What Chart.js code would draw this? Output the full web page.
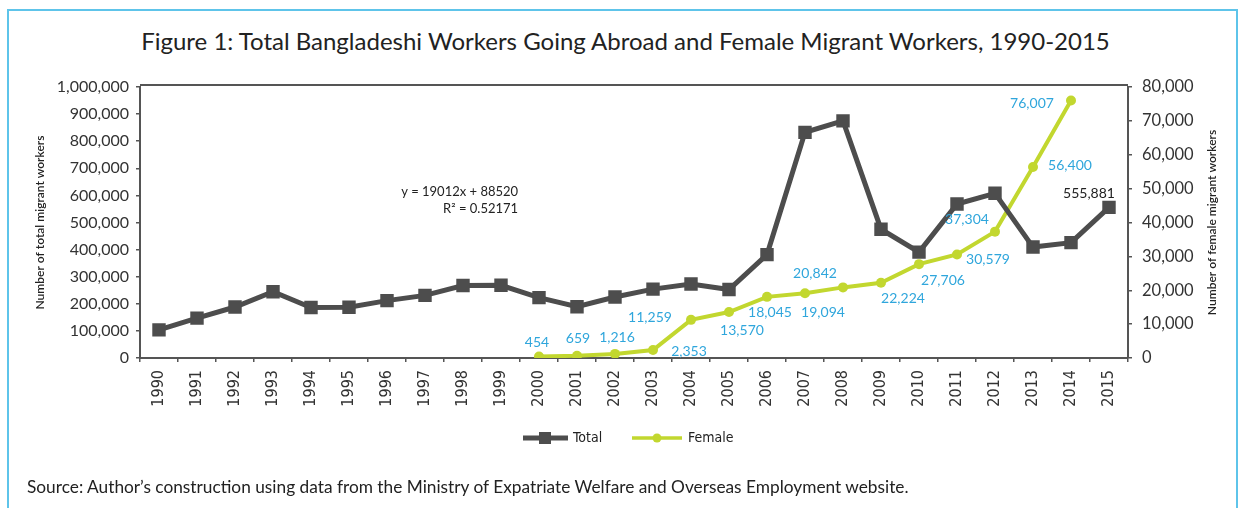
<!DOCTYPE html>
<html>
<head>
<meta charset="utf-8">
<script src="https://cdn.jsdelivr.net/npm/chart.js"></script>
<style>
  body { margin: 0; background: #fff; }
  #wrap { position: relative; width: 1241px; height: 508px; overflow: hidden; }
  .frame { position: absolute; left: 7px; top: 9px; width: 1227px; height: 520px; border: 2px solid #5ec4ea; }
  .title { position: absolute; left: 10px; width: 1231px; top: 26px; text-align: center;
           font-family: Lato, sans-serif; font-size: 24px; color: #222; }
  .source { position: absolute; left: 27px; top: 476px; font-family: Lato, sans-serif; font-size: 17.3px; color: #222; }
  #box { position: absolute; left: 0; top: 0; width: 1241px; height: 508px; }
</style>
</head>
<body>
<div id="wrap">
  <div class="frame"></div>
  <div class="title">Figure 1: Total Bangladeshi Workers Going Abroad and Female Migrant Workers, 1990-2015</div>
  <div id="box"><canvas id="chart"></canvas></div>
  <div class="source">Source: Author’s construction using data from the Ministry of Expatriate Welfare and Overseas Employment website.</div>
</div>
<script>
const years = ['1990','1991','1992','1993','1994','1995','1996','1997','1998','1999','2000','2001','2002',
  '2003','2004','2005','2006','2007','2008','2009','2010','2011','2012','2013','2014','2015'];

const totalWorkers = [103814, 147131, 188124, 244508, 186326, 187543, 211714, 231077, 267667, 268182,
  222686, 188965, 225256, 254190, 272958, 252702, 381516, 832609, 875055, 475278,
  390702, 568062, 607798, 409253, 425684, 555881];

const femaleWorkers = [null, null, null, null, null, null, null, null, null, null,
  454, 659, 1216, 2353, 11259, 13570, 18045, 19094, 20842, 22224,
  27706, 30579, 37304, 56400, 76007, null];

// label nudges (px) for the female value labels, keyed by year
const femaleLabelNudge = {
  '2000': [-2, -14], '2001': [1, -17], '2002': [2, -16], '2003': [36, 1], '2004': [-41, -2],
  '2005': [13, 18], '2006': [3, 16], '2007': [18, 19], '2008': [-28, -14], '2009': [22, 16],
  '2010': [24, 16], '2011': [31, 5], '2012': [-28, -12], '2013': [37, -1], '2014': [-39, 3]
};

const GRAY = '#4d4d4d';
const GREEN = '#c2d72f';
const BLUE = '#2fa6dc';
const fmt = v => v.toLocaleString('en-US');

const extras = {
  id: 'extras',
  afterDraw(chart) {
    const ctx = chart.ctx;
    const a = chart.chartArea;
    const xs = chart.scales.x, ys = chart.scales.y;
    ctx.save();

    // top frame line of the plot
    ctx.strokeStyle = '#555';
    ctx.lineWidth = 2;
    ctx.beginPath();
    ctx.moveTo(a.left, a.top - 2);
    ctx.lineTo(a.right, a.top - 2);
    ctx.stroke();

    // axis titles
    ctx.fillStyle = '#222';
    ctx.font = '600 12px Lato, sans-serif';
    ctx.textAlign = 'center';
    ctx.textBaseline = 'middle';
    const midY = (a.top + a.bottom) / 2;
    ctx.save();
    ctx.translate(40, midY);
    ctx.rotate(-Math.PI / 2);
    ctx.fillText('Number of total migrant workers', 0, 0);
    ctx.restore();
    ctx.save();
    ctx.translate(1212, midY);
    ctx.rotate(-Math.PI / 2);
    ctx.fillText('Number of female migrant workers', 0, 0);
    ctx.restore();

    // trend equation
    ctx.font = '13px Lato, sans-serif';
    ctx.textAlign = 'right';
    ctx.fillStyle = '#222';
    const tx = xs.getPixelForValue(9.45);
    ctx.fillText('y = 19012x + 88520', tx, ys.getPixelForValue(615000));
    ctx.fillText('R² = 0.52171', tx, ys.getPixelForValue(550000));

    // value labels
    ctx.font = '14px Lato, sans-serif';
    ctx.textAlign = 'center';
    ctx.fillStyle = BLUE;
    const fMeta = chart.getDatasetMeta(1);
    femaleWorkers.forEach((v, i) => {
      if (v == null) return;
      const p = fMeta.data[i];
      const n = femaleLabelNudge[years[i]] || [0, -14];
      ctx.fillText(fmt(v), p.x + n[0], p.y + n[1]);
    });
    const tMeta = chart.getDatasetMeta(0);
    const last = totalWorkers.length - 1;
    ctx.fillStyle = '#222';
    ctx.fillText(fmt(totalWorkers[last]), tMeta.data[last].x - 20, tMeta.data[last].y - 14);

    // legend
    const ly = 438;
    ctx.lineWidth = 5;
    ctx.strokeStyle = GRAY;
    ctx.beginPath(); ctx.moveTo(523, ly); ctx.lineTo(568, ly); ctx.stroke();
    ctx.fillStyle = GRAY;
    ctx.fillRect(539, ly - 6, 12, 12);
    ctx.lineWidth = 3.5;
    ctx.strokeStyle = GREEN;
    ctx.beginPath(); ctx.moveTo(632, ly); ctx.lineTo(682, ly); ctx.stroke();
    ctx.fillStyle = GREEN;
    ctx.beginPath(); ctx.arc(657, ly, 4.5, 0, Math.PI * 2); ctx.fill();
    ctx.fillStyle = '#222';
    ctx.textAlign = 'left';
    ctx.font = '14px "Liberation Sans Narrow", "DejaVu Sans Condensed", sans-serif';
    ctx.fillText('Total', 573, ly);
    ctx.fillText('Female', 688, ly);

    ctx.restore();
  }
};

const ctx = document.getElementById('chart');

new Chart(ctx, {
  type: 'line',
  data: {
    labels: years,
    datasets: [{
      label: 'Total',
      data: totalWorkers,
      yAxisID: 'y',
      borderColor: GRAY,
      backgroundColor: GRAY,
      borderWidth: 5,
      pointStyle: 'rect',
      pointRadius: 9.5,
      pointBorderWidth: 0,
      tension: 0
    }, {
      label: 'Female',
      data: femaleWorkers,
      yAxisID: 'y1',
      borderColor: GREEN,
      backgroundColor: GREEN,
      borderWidth: 4,
      pointStyle: 'circle',
      pointRadius: 5,
      pointBorderWidth: 0,
      tension: 0
    }]
  },
  options: {
    responsive: true,
    maintainAspectRatio: false,
    animation: false,
    layout: { padding: { top: 87, left: 0, right: 0, bottom: 0 } },
    plugins: { legend: { display: false }, title: { display: false }, tooltip: { enabled: false } },
    scales: {
      x: {
        offset: true,
        grid: { offset: true, drawOnChartArea: false, tickLength: 4, color: '#555', lineWidth: 1.5 },
        border: { color: '#555', width: 2 },
        ticks: { minRotation: 90, maxRotation: 90, autoSkip: false, padding: 8, color: '#333',
                 font: { family: '"Liberation Sans Narrow", "DejaVu Sans Condensed", sans-serif', size: 16 } },
        afterFit(s) { s.height = 150; }
      },
      y: {
        position: 'left',
        min: 0, max: 1000000,
        grid: { drawOnChartArea: false, tickLength: 4, color: '#555', lineWidth: 1.5 },
        border: { color: '#555', width: 2 },
        ticks: { stepSize: 100000, callback: v => fmt(v), padding: 7, color: '#333',
                 font: { family: 'Lato', size: 16 } },
        afterFit(s) { s.width = 140; }
      },
      y1: {
        position: 'right',
        min: 0, max: 80000,
        grid: { drawOnChartArea: false, tickLength: 4, color: '#555', lineWidth: 1.5 },
        border: { color: '#555', width: 2 },
        ticks: { stepSize: 10000, callback: v => fmt(v), padding: 10, color: '#333',
                 font: { family: 'Lato', size: 16.5 } },
        afterFit(s) { s.width = 113; }
      }
    }
  },
  plugins: [extras]
});
</script>
</body>
</html>
